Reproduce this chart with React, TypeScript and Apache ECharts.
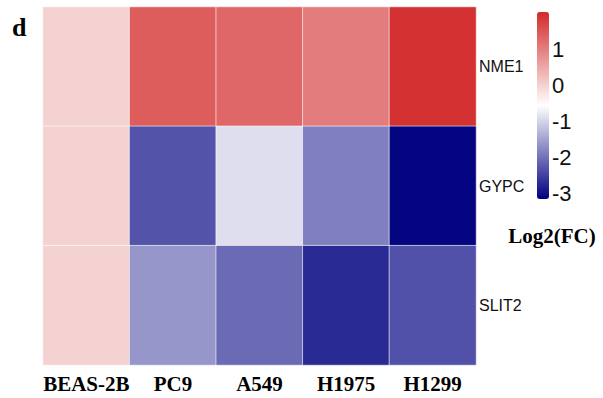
import React, { useEffect, useRef } from "react";
import * as echarts from "echarts";

const cellLines = ["BEAS-2B", "PC9", "A549", "H1975", "H1299"];
const genes = ["NME1", "GYPC", "SLIT2"];
const nme1 = [0, 1.43, 1.3, 1.04, 1.95];
const gypc = [0, -2.3, -0.89, -1.85, -3.1];
const slit2 = [0, -1.62, -2.06, -2.72, -2.32];
const legendTicks = [-3, -2, -1, 0, 1];
const scaleMin = -3.15;
const scaleMax = 2.05;
const legendTitle = "Log2(FC)";
const panelLetter = "d";

export default function App() {
  const ref = useRef<HTMLDivElement>(null);
  useEffect(() => {
    if (!ref.current) return;
    const chart = echarts.init(ref.current, null, { renderer: "svg" });
    const rows = [nme1, gypc, slit2];
    const data: number[][] = [];
    rows.forEach((r, yi) => r.forEach((v, xi) => data.push([xi, yi, v])));
    chart.setOption({
      animation: false,
      backgroundColor: "#ffffff",
      title: {
        text: panelLetter,
        left: 12,
        top: 14,
        padding: 0,
        textStyle: { fontFamily: "Liberation Serif", fontWeight: "bold", fontSize: 26, color: "#000" },
      },
      grid: [
        { left: 43, top: 7, width: 433, height: 358 },
        { left: 537, top: 12, width: 12, height: 187 },
      ],
      xAxis: [
        {
          type: "category",
          data: cellLines,
          gridIndex: 0,
          axisLine: { show: false },
          axisTick: { show: false },
          splitLine: { show: false },
          axisLabel: {
            margin: 8,
            fontFamily: "Liberation Serif",
            fontWeight: "bold",
            fontSize: 21,
            color: "#000",
            interval: 0,
          },
        },
        { type: "value", gridIndex: 1, show: false, min: 0, max: 1 },
      ],
      yAxis: [
        {
          type: "category",
          data: genes,
          inverse: true,
          position: "right",
          gridIndex: 0,
          axisLine: { show: false },
          axisTick: { show: false },
          splitLine: { show: false },
          axisLabel: { margin: 3, fontFamily: "Liberation Sans", fontSize: 16, color: "#111" },
        },
        {
          type: "value",
          gridIndex: 1,
          position: "right",
          min: scaleMin,
          max: scaleMax,
          axisLine: { show: false },
          axisTick: { show: false },
          splitLine: { show: false },
          axisLabel: {
            margin: 3,
            fontFamily: "Liberation Sans",
            fontSize: 22,
            color: "#111",
            customValues: legendTicks,
          },
        },
      ],
      visualMap: {
        type: "continuous",
        min: scaleMin,
        max: scaleMax,
        calculable: false,
        orient: "vertical",
        left: 537,
        top: 12,
        padding: 0,
        itemWidth: 12,
        itemHeight: 187,
        seriesIndex: 0,
        inRange: { color: ["#000080", "#ffffff", "#d22a2a"] },
      },
      graphic: [
        {
          type: "text",
          x: 552,
          y: 236,
          style: {
            text: legendTitle,
            fontFamily: "Liberation Serif",
            fontWeight: "bold",
            fontSize: 21,
            fill: "#000",
            textAlign: "center",
            textVerticalAlign: "middle",
          },
        },
      ],
      series: [
        {
          type: "heatmap",
          xAxisIndex: 0,
          yAxisIndex: 0,
          data,
          itemStyle: { borderColor: "rgba(255,255,255,0.6)", borderWidth: 1 },
          emphasis: { disabled: true },
          label: { show: false },
        },
      ],
    });
    return () => chart.dispose();
  }, []);
  return <div ref={ref} style={{ position: "fixed", left: 0, top: 0, width: 603, height: 398 }} />;
}
